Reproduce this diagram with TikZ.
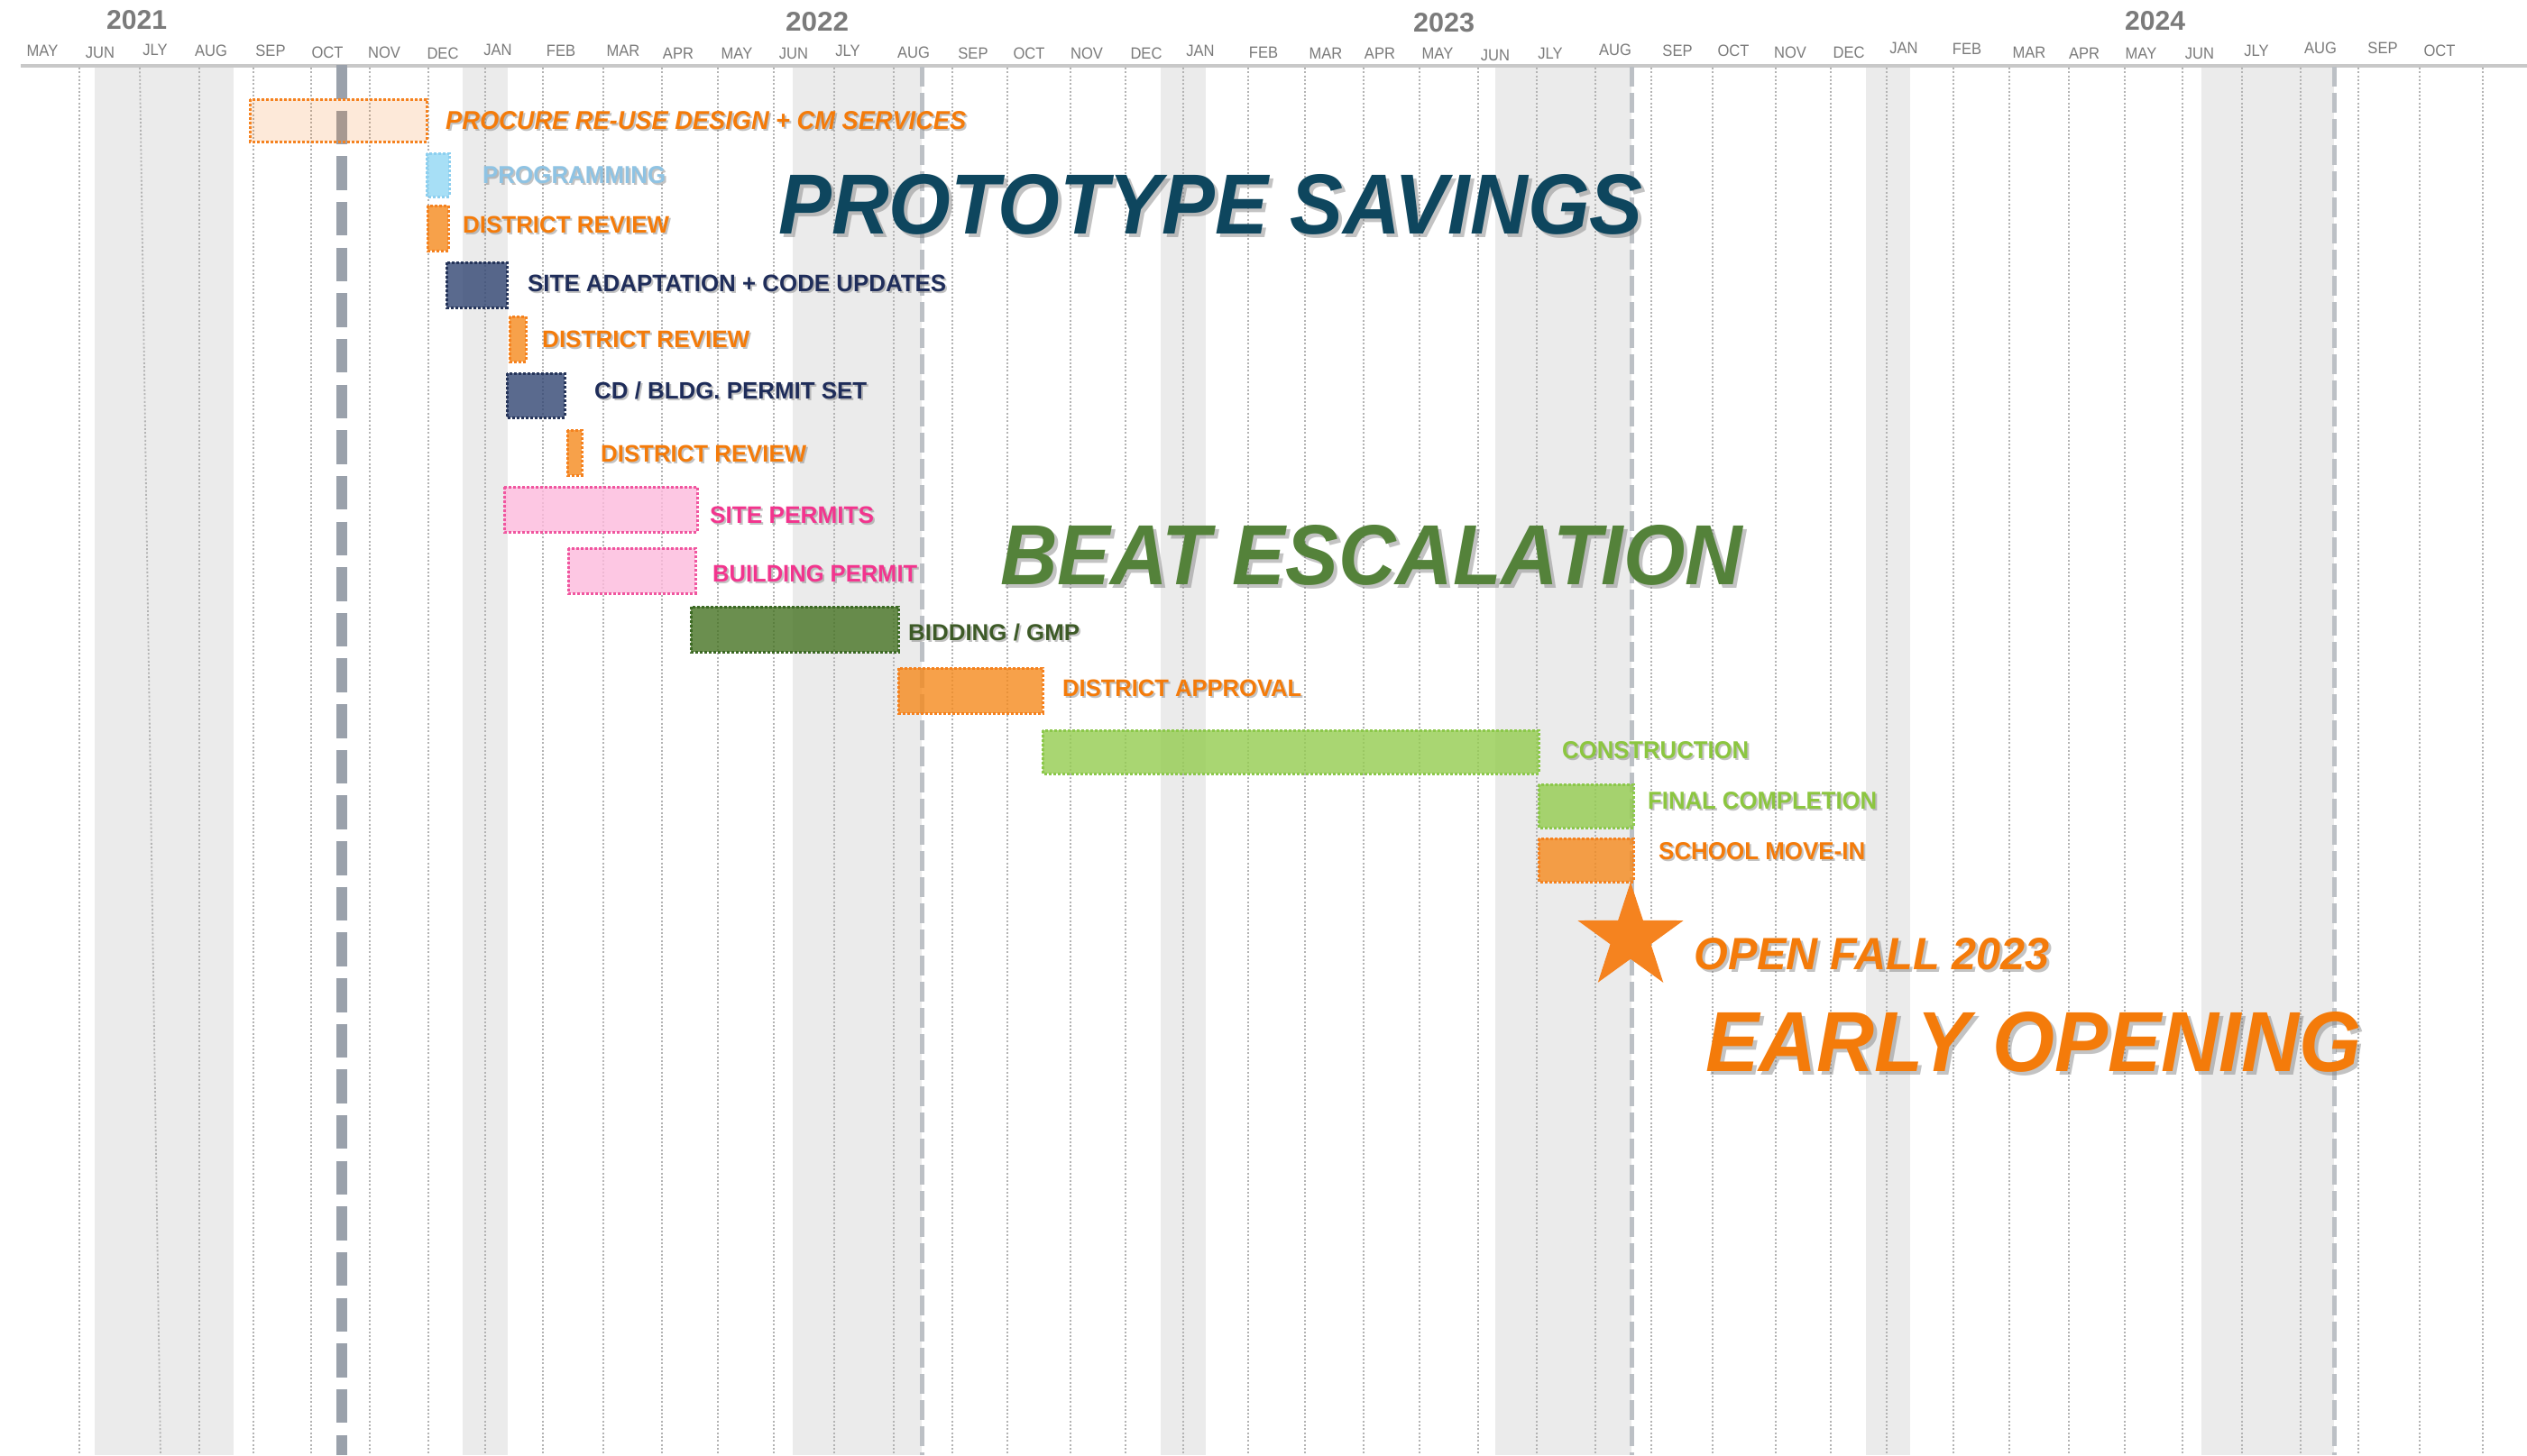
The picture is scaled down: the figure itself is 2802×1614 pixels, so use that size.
\documentclass[tikz,border=0pt]{standalone}
\usepackage{fontspec}
\setmainfont{Liberation Sans}
\usepackage{graphicx}
\definecolor{bandgray}{HTML}{EBEBEB}
\definecolor{gridgray}{HTML}{B3B3B3}
\definecolor{axisgray}{HTML}{C8C8C8}
\definecolor{heavygray}{HTML}{9AA1AB}
\definecolor{lightdashgray}{HTML}{BCC0C5}
\definecolor{monthgray}{HTML}{7A7A7A}
\definecolor{yeargray}{HTML}{7B7B7B}
\definecolor{orfill}{HTML}{F58A1D}
\definecolor{ordraw}{HTML}{F5821F}
\definecolor{procfill}{HTML}{F57000}
\definecolor{blfill}{HTML}{92D8F4}
\definecolor{bldraw}{HTML}{8DCFEF}
\definecolor{nvfill}{HTML}{314572}
\definecolor{nvdraw}{HTML}{26355A}
\definecolor{pkfill}{HTML}{FDBADC}
\definecolor{pkdraw}{HTML}{F0569F}
\definecolor{dgfill}{HTML}{467323}
\definecolor{dgdraw}{HTML}{3D6A25}
\definecolor{lgfill}{HTML}{94CC4F}
\definecolor{lgdraw}{HTML}{8CC84B}
\definecolor{txor}{HTML}{F47B0A}
\definecolor{txbl}{HTML}{8FC3E3}
\definecolor{txnv}{HTML}{1F2D5A}
\definecolor{txpk}{HTML}{F2358E}
\definecolor{txdg}{HTML}{3D5A27}
\definecolor{txlg}{HTML}{8CC640}
\definecolor{txproto}{HTML}{0E465E}
\definecolor{txbeat}{HTML}{54823A}
\definecolor{shadowgray}{HTML}{7A7A7A}
\definecolor{starorange}{HTML}{F5831F}

% #1 name, #2 x, #3 baseline, #4 width, #5 height, #6 colour, #7 font, #8 text, #9 shadow offset
\newcommand\glabel[9]{%
  \node[anchor=base west, inner sep=0pt, text=shadowgray, text opacity=0.45] (#1s) at ({#2+#9},{#3+#9}) {\resizebox{#4pt}{#5pt}{#7#8}};
  \node[anchor=base west, inner sep=0pt, text=#6] (#1) at (#2,#3) {\resizebox{#4pt}{#5pt}{#7#8}};}
\newcommand\plainlabel[8]{%
  \node[anchor=base west, inner sep=0pt, text=#6] (#1) at (#2,#3) {\resizebox{#4pt}{#5pt}{#7#8}};}

\tikzset{
  band/.style={fill=bandgray},
  gridline/.style={draw=gridgray, line width=1.8pt, dash pattern=on 2pt off 2.3pt},
  axisline/.style={draw=axisgray, line width=3.5pt},
  heavydash/.style={draw=heavygray, line width=12pt, dash pattern=on 37.5pt off 13.15pt},
  lightdash/.style={draw=lightdashgray, line width=5pt, dash pattern=on 22pt off 7pt},
  ganttbox/.style={line width=3pt, dash pattern=on 3pt off 2pt, fill opacity=0.8},
  boxor/.style={ganttbox, fill=orfill, draw=ordraw},
  boxproc/.style={ganttbox, fill=procfill, fill opacity=0.15, draw=ordraw},
  boxbl/.style={ganttbox, fill=blfill, draw=bldraw},
  boxnv/.style={ganttbox, fill=nvfill, draw=nvdraw},
  boxpk/.style={ganttbox, fill=pkfill, draw=pkdraw},
  boxdg/.style={ganttbox, fill=dgfill, draw=dgdraw},
  boxlg/.style={ganttbox, fill=lgfill, draw=lgdraw},
  monthlabel/.style={anchor=north, inner sep=0pt, text=monthgray, font=\fontsize{18pt}{20pt}\selectfont},
}

\begin{document}
\begin{tikzpicture}[x=1pt,y=-1pt]
\useasboundingbox (0,0) rectangle (2802,1614);
\fill[white] (0,0) rectangle (2802,1614);

% shaded summer/winter bands
\foreach \a/\b in {105/259, 513/563, 879/1022, 1287/1337, 1658/1809, 2069/2118, 2441/2588}
  \fill[band] (\a,74) rectangle (\b,1614);

% dotted month grid
\foreach \xx in {88,221,281,345,410,475,538,602,669,734,796,858,925,991,1056,1117,1187,1248,1312,1384,1447,1512,1574,1639,1704,1769,1831,1899,1969,2030,2092,2166,2228,2294,2356,2420,2486,2551,2615,2683,2753}
  \draw[gridline] (\xx,75) -- (\xx,1614);
\draw[gridline] (155,75) -- (178,1614);

% axis
\draw[axisline] (23,73) -- (2802,73);

% milestone lines
\draw[heavydash] (379,72) -- (379,1614);
\foreach \xx in {1022,1809,2588}
  \draw[lightdash] (\xx,74) -- (\xx,1614);

% years
\plainlabel{y2021}{118}{32}{67}{21}{yeargray}{\bfseries}{2021}
\plainlabel{y2022}{871}{34}{70}{21}{yeargray}{\bfseries}{2022}
\plainlabel{y2023}{1567}{35}{68}{21}{yeargray}{\bfseries}{2023}
\plainlabel{y2024}{2356}{33}{67}{21}{yeargray}{\bfseries}{2024}

% months
\foreach \m/\xx/\yy [count=\i] in {MAY/47/50, JUN/111/52, JLY/172/49, AUG/234/50, SEP/300/50, OCT/363/52, NOV/426/52, DEC/491/53,
  JAN/552/49, FEB/622/50, MAR/691/50, APR/752/53, MAY/817/53, JUN/880/53, JLY/940/50, AUG/1013/52, SEP/1079/53, OCT/1141/53, NOV/1205/53, DEC/1271/53,
  JAN/1331/50, FEB/1401/52, MAR/1470/53, APR/1530/53, MAY/1594/53, JUN/1658/55, JLY/1719/53, AUG/1791/49, SEP/1860/50, OCT/1922/50, NOV/1985/52, DEC/2050/52,
  JAN/2111/47, FEB/2181/48, MAR/2250/52, APR/2311/53, MAY/2374/53, JUN/2439/53, JLY/2502/50, AUG/2573/47, SEP/2642/47, OCT/2705/50}
  \node[monthlabel] (month\i) at (\xx,\yy) {\scalebox{0.92}[1]{\m}};

% bars
\draw[boxproc] (277,110) rectangle (473,157);
\draw[boxbl] (473,170) rectangle (498,218);
\draw[boxor] (474,228) rectangle (497,278);
\draw[boxnv] (495,291) rectangle (562,341);
\draw[boxor] (565,351) rectangle (583,401);
\draw[boxnv] (562,414) rectangle (626,463);
\draw[boxor] (629,477) rectangle (645,527);
\draw[boxpk] (559,540) rectangle (773,590);
\draw[boxpk] (630,608) rectangle (771,658);
\draw[boxdg] (766,673) rectangle (996,723);
\draw[boxor] (996,741) rectangle (1156,791);
\draw[boxlg] (1156,810) rectangle (1706,858);
\draw[boxlg] (1706,870) rectangle (1811,918);
\draw[boxor] (1706,930) rectangle (1811,978);

% bar labels
\glabel{procure}{494}{143}{577}{20}{txor}{\bfseries\itshape}{PROCURE RE-USE DESIGN + CM SERVICES}{2}
\glabel{prog}{535}{203}{203}{19}{txbl}{\bfseries}{PROGRAMMING}{2}
\glabel{dr1}{513}{258}{229}{18.5}{txor}{\bfseries}{DISTRICT REVIEW}{2}
\glabel{site}{585}{323}{464}{18.5}{txnv}{\bfseries}{SITE ADAPTATION + CODE UPDATES}{2}
\glabel{dr2}{601}{385}{230}{18.5}{txor}{\bfseries}{DISTRICT REVIEW}{2}
\glabel{cd}{659}{442}{302}{19}{txnv}{\bfseries}{CD / BLDG. PERMIT SET}{2}
\glabel{dr3}{666}{512}{228}{18.5}{txor}{\bfseries}{DISTRICT REVIEW}{2}
\glabel{sitep}{787}{580}{182}{18.5}{txpk}{\bfseries}{SITE PERMITS}{2}
\glabel{bldgp}{790}{645}{227}{18.5}{txpk}{\bfseries}{BUILDING PERMIT}{2}
\glabel{bid}{1007}{710}{190}{18.5}{txdg}{\bfseries}{BIDDING / GMP}{2}
\glabel{dapp}{1178}{772}{265}{18.5}{txor}{\bfseries}{DISTRICT APPROVAL}{2}
\glabel{constr}{1732}{841}{207}{19}{txlg}{\bfseries}{CONSTRUCTION}{2}
\glabel{final}{1827}{897}{254}{19}{txlg}{\bfseries}{FINAL COMPLETION}{2}
\glabel{movein}{1839}{953}{229}{19}{txor}{\bfseries}{SCHOOL MOVE-IN}{2}

% star
\fill[starorange, draw=ordraw, line width=1pt] (1808,980) -- (1821.5,1021.4) -- (1865.1,1021.5) -- (1829.9,1047.1)
  -- (1843.3,1088.5) -- (1808,1063) -- (1772.7,1088.5) -- (1786.1,1047.1) -- (1750.9,1021.5) -- (1794.5,1021.4) -- cycle;

% headline texts
\glabel{proto}{863}{259}{958}{66}{txproto}{\bfseries\itshape}{PROTOTYPE SAVINGS}{4}
\glabel{beat}{1109}{648}{823}{66}{txbeat}{\bfseries\itshape}{BEAT ESCALATION}{4}
\glabel{openfall}{1878}{1075}{394}{35}{txor}{\bfseries\itshape}{OPEN FALL 2023}{3}
\glabel{early}{1891}{1188}{727}{66}{txor}{\bfseries\itshape}{EARLY OPENING}{4}
\end{tikzpicture}
\end{document}
